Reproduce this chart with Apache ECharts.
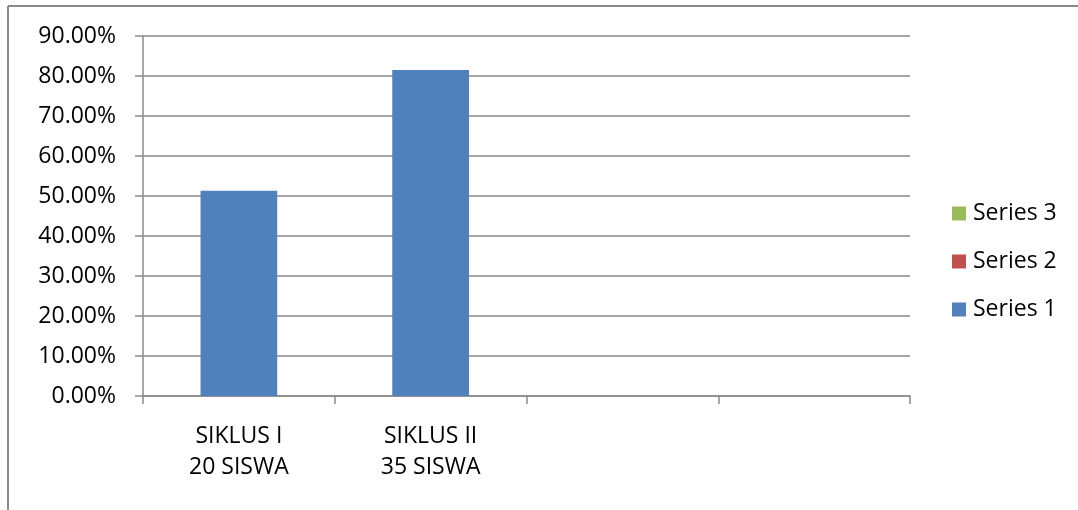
<!DOCTYPE html>
<html>
<head>
<meta charset="utf-8">
<script src="https://cdn.jsdelivr.net/npm/echarts@6/dist/echarts.min.js"></script>
<style>
  html, body { margin: 0; padding: 0; background: #fff; }
  #chart { width: 1078px; height: 510px; }
</style>
</head>
<body>
<div id="chart"></div>
<script>
// Categories along the x axis (two empty slots on the right)
const categories = ['SIKLUS I\n20 SISWA', 'SIKLUS II\n35 SISWA', '', ''];
// Series values, in percent
const series1 = [51.3, 81.5, null, null];
const series2 = [null, null, null, null];
const series3 = [null, null, null, null];
const seriesNames = ['Series 1', 'Series 2', 'Series 3'];
// Legend is listed top-down in reverse order
const legendOrder = ['Series 3', 'Series 2', 'Series 1'];

const FONT = 'Open Sans';
const FONT_SIZE = 23;
const GRID = '#8a8a8a';

const chart = echarts.init(document.getElementById('chart'), null, { renderer: 'canvas' });

chart.setOption({
  animation: false,
  backgroundColor: '#ffffff',
  textStyle: { fontFamily: FONT, color: '#000' },
  grid: { left: 143, right: 168, top: 36, bottom: 114, containLabel: false },
  legend: {
    data: legendOrder,
    orient: 'vertical',
    left: 952,
    top: 202,
    padding: 0,
    itemWidth: 14,
    itemHeight: 14,
    itemGap: 25,
    icon: 'rect',
    textStyle: { fontFamily: FONT, fontSize: FONT_SIZE, color: '#000', lineHeight: 22, padding: [0, 0, 0, 2] }
  },
  xAxis: {
    type: 'category',
    data: categories,
    boundaryGap: true,
    axisLine: { show: true, lineStyle: { color: GRID, width: 1.5 } },
    axisTick: { show: true, interval: 0, length: 8, alignWithLabel: false, lineStyle: { color: GRID, width: 1.5 } },
    axisLabel: { interval: 0, margin: 25, fontFamily: FONT, fontSize: FONT_SIZE, lineHeight: 31, color: '#000' },
    splitLine: { show: false }
  },
  yAxis: {
    type: 'value',
    min: 0,
    max: 90,
    interval: 10,
    axisLine: { show: true, lineStyle: { color: GRID, width: 1.5 } },
    axisTick: { show: true, length: 8, lineStyle: { color: GRID, width: 1.5 } },
    axisLabel: {
      margin: 27,
      fontFamily: FONT,
      fontSize: FONT_SIZE,
      color: '#000',
      formatter: v => v.toFixed(2) + '%'
    },
    splitLine: { show: true, lineStyle: { color: GRID, width: 1.5 } }
  },
  series: [
    { name: seriesNames[0], type: 'bar', stack: 'all', data: series1, barWidth: '40%', itemStyle: { color: '#4F81BD' } },
    { name: seriesNames[1], type: 'bar', stack: 'all', data: series2, barWidth: '40%', itemStyle: { color: '#C0504D' } },
    { name: seriesNames[2], type: 'bar', stack: 'all', data: series3, barWidth: '40%', itemStyle: { color: '#9BBB59' } }
  ],
  graphic: [
    // chart frame (left and top edges)
    { type: 'line', shape: { x1: 8, y1: 6, x2: 8, y2: 510 }, style: { stroke: GRID, lineWidth: 2 } },
    { type: 'line', shape: { x1: 8, y1: 6, x2: 1078, y2: 6 }, style: { stroke: GRID, lineWidth: 2 } }
  ]
});
</script>
</body>
</html>
